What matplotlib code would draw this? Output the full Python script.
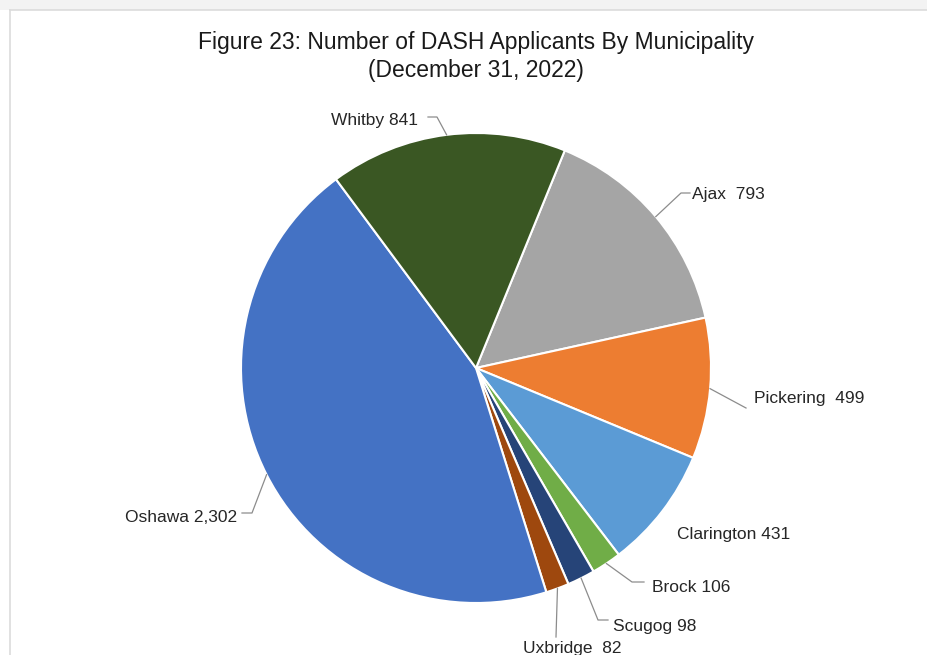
import numpy as np
import matplotlib.pyplot as plt
from matplotlib.patches import Rectangle

plt.rcParams['font.family'] = ['Liberation Sans', 'DejaVu Sans']

# data, clockwise from the Ajax slice
municipalities = ['Ajax', 'Pickering', 'Clarington', 'Brock', 'Scugog', 'Uxbridge', 'Oshawa', 'Whitby']
applicants     = [793, 499, 431, 106, 98, 82, 2302, 841]
label_text     = ['Ajax  793', 'Pickering  499', 'Clarington 431', 'Brock 106',
                  'Scugog 98', 'Uxbridge  82', 'Oshawa 2,302', 'Whitby 841']
colors = ['#A5A5A5', '#ED7D31', '#5B9BD5', '#70AD47', '#264478', '#9E480E', '#4472C4', '#3A5723']

W, H = 927, 655
fig = plt.figure(figsize=(W / 100, H / 100), dpi=100)
ax = fig.add_axes([0, 0, 1, 1])

# frame of the original screenshot
ax.add_patch(Rectangle((0, H - 10), W, 10, facecolor='#f3f3f3', edgecolor='none', zorder=0))
ax.plot([10, 10], [0, H - 10], color='#dcdcdc', lw=1.2, zorder=0)
ax.plot([10, W], [H - 10, H - 10], color='#dcdcdc', lw=1.2, zorder=0)

cx, cy, r = 476, H - 368, 235
wedges, _ = ax.pie(applicants, colors=colors, startangle=67.8, counterclock=False,
                   center=(cx, cy), radius=r,
                   wedgeprops=dict(edgecolor='white', linewidth=1.5))

# label layout in image pixels: text x, text y, alignment, leader points after the slice edge
layout = [
    (692, 195, 'left',  [(681, 193), (690, 193)]),
    (754, 398, 'left',  [(746, 408)]),
    (677, 534, 'left',  None),
    (652, 588, 'left',  [(632, 582), (644, 582)]),
    (613, 627, 'left',  [(598, 620), (608, 620)]),
    (523, 648, 'left',  [(556, 637)]),
    (237, 517, 'right', [(252, 513), (242, 513)]),
    (418, 121, 'right', [(437, 117), (428, 117)]),
]

for w, txt, (tx, ty, ha, pts) in zip(wedges, label_text, layout):
    if pts is not None:
        mid = np.radians((w.theta1 + w.theta2) / 2)
        xs = [cx + r * np.cos(mid)] + [p[0] for p in pts]
        ys = [cy + r * np.sin(mid)] + [H - p[1] for p in pts]
        ax.plot(xs, ys, color='#8c8c8c', lw=0.9, zorder=3)
    ax.text(tx, H - ty, txt, ha=ha, va='center', fontsize=12.5, color='#262626', zorder=4)

ax.text(476, H - 42, 'Figure 23: Number of DASH Applicants By Municipality',
        ha='center', va='center', fontsize=16.5, color='#1a1a1a')
ax.text(476, H - 70, '(December 31, 2022)', ha='center', va='center', fontsize=16.5, color='#1a1a1a')

ax.set_xlim(0, W)
ax.set_ylim(0, H)
ax.set_aspect('auto')
ax.axis('off')

fig.savefig('out.png', dpi=100)
